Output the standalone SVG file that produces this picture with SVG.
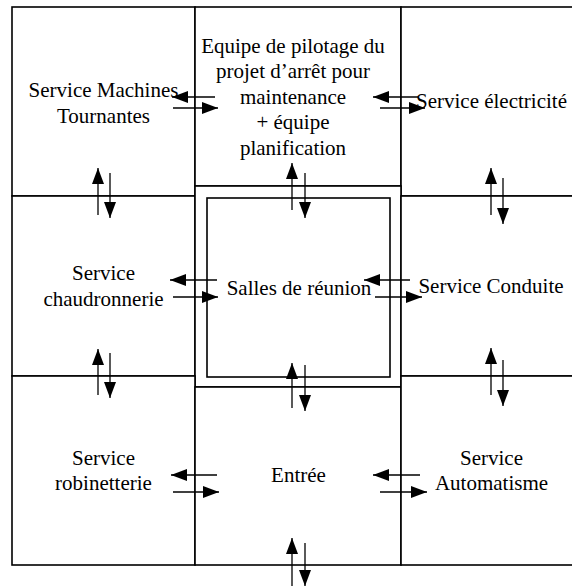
<svg xmlns="http://www.w3.org/2000/svg" width="572" height="587" viewBox="0 0 572 587">
<defs>
<marker id="ah" markerUnits="userSpaceOnUse" markerWidth="16" markerHeight="12" refX="16" refY="6" orient="auto">
<path d="M0,0 L16,6 L0,12 z" fill="#000"/>
</marker>
<style>
.cell{fill:#fff;stroke:#000;stroke-width:1.6}
.t{font-family:'Liberation Serif','DejaVu Serif',serif;font-size:21px;fill:#000;text-anchor:middle}
.a{stroke:#000;stroke-width:1.3;fill:none;marker-end:url(#ah)}
</style>
</defs>
<rect width="572" height="587" fill="#fff"/>
<g id="tl"><rect class="cell" x="12" y="7" width="183" height="189"/><text class="t" font-family="Liberation Serif, DejaVu Serif, serif" x="103.5" y="97">Service Machines</text><text class="t" font-family="Liberation Serif, DejaVu Serif, serif" x="103.5" y="122.5">Tournantes</text></g>
<g id="tc"><rect class="cell" x="195" y="7" width="206" height="179"/><text class="t" x="293" y="53">Equipe de pilotage du</text><text class="t" x="293" y="78">projet d’arrêt pour</text><text class="t" x="293" y="103.5">maintenance</text><text class="t" x="293" y="129">+ équipe</text><text class="t" x="293" y="155">planification</text></g>
<g id="tr"><rect class="cell" x="401" y="7" width="180" height="189"/><text class="t" x="491.5" y="108">Service électricité</text></g>
<g id="ml"><rect class="cell" x="12" y="196" width="183" height="180"/><text class="t" x="103.5" y="280">Service</text><text class="t" x="103.5" y="306">chaudronnerie</text></g>
<g id="c"><rect class="cell" x="195" y="186" width="206" height="201"/><rect class="cell" x="207" y="198" width="183" height="179"/><text class="t" x="299" y="295">Salles de réunion</text></g>
<g id="mr"><rect class="cell" x="401" y="196" width="180" height="180"/><text class="t" x="491" y="293">Service Conduite</text></g>
<g id="bl"><rect class="cell" x="12" y="376" width="183" height="189"/><text class="t" x="103.5" y="465">Service</text><text class="t" x="103.5" y="490">robinetterie</text></g>
<g id="bc"><rect class="cell" x="195" y="387" width="206" height="178"/><text class="t" x="298.5" y="482">Entrée</text></g>
<g id="br"><rect class="cell" x="401" y="376" width="180" height="189"/><text class="t" x="491.5" y="465">Service</text><text class="t" x="491.5" y="490">Automatisme</text></g>
<g id="connectors">
<line class="a" x1="215" y1="97" x2="172" y2="97"/>
<line class="a" x1="173" y1="108" x2="218" y2="108"/>
<line class="a" x1="418" y1="97" x2="373" y2="97"/>
<line class="a" x1="380" y1="108" x2="425" y2="108"/>
<line class="a" x1="217" y1="280" x2="170" y2="280"/>
<line class="a" x1="173" y1="297" x2="218" y2="297"/>
<line class="a" x1="410" y1="280" x2="364" y2="280"/>
<line class="a" x1="375" y1="297" x2="422" y2="297"/>
<line class="a" x1="217" y1="475" x2="171" y2="475"/>
<line class="a" x1="173" y1="492" x2="219" y2="492"/>
<line class="a" x1="420" y1="475" x2="373" y2="475"/>
<line class="a" x1="380" y1="492" x2="427" y2="492"/>
<line class="a" x1="98" y1="215" x2="98" y2="168"/>
<line class="a" x1="110" y1="173" x2="110" y2="218"/>
<line class="a" x1="98" y1="395" x2="98" y2="349"/>
<line class="a" x1="110" y1="353" x2="110" y2="398"/>
<line class="a" x1="292" y1="210" x2="292" y2="163"/>
<line class="a" x1="305" y1="173" x2="305" y2="218"/>
<line class="a" x1="292" y1="408" x2="292" y2="363"/>
<line class="a" x1="305" y1="365" x2="305" y2="411"/>
<line class="a" x1="292" y1="586" x2="292" y2="538"/>
<line class="a" x1="305" y1="543" x2="305" y2="586"/>
<line class="a" x1="491" y1="215" x2="491" y2="168"/>
<line class="a" x1="503" y1="178" x2="503" y2="224"/>
<line class="a" x1="491" y1="395" x2="491" y2="348"/>
<line class="a" x1="503" y1="360" x2="503" y2="406"/>
</g>
</svg>
